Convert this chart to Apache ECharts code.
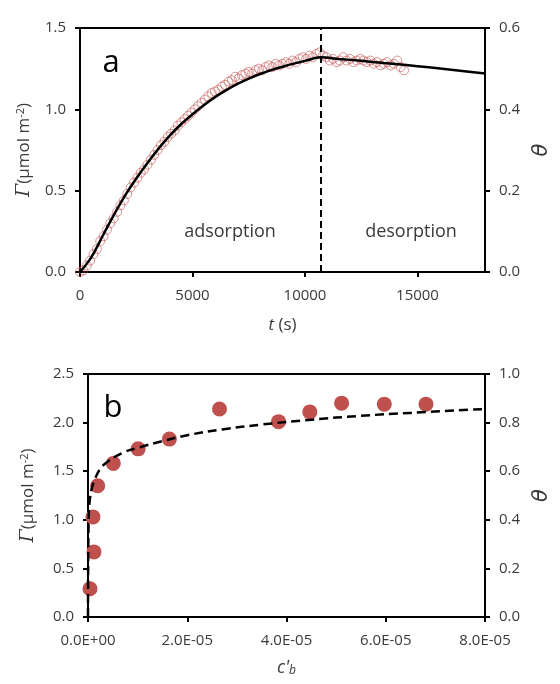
<!DOCTYPE html>
<html>
<head>
<meta charset="utf-8">
<script src="https://cdn.jsdelivr.net/npm/echarts@6/dist/echarts.min.js"></script>
<style>
html,body{margin:0;padding:0;background:#fff}
#echart{width:560px;height:684px}
</style>
</head>
<body>
<div id="echart"></div>
<script>
// panel a: kinetics (experimental points + model line)
const expTime = [
  0,150,300,450,600,750,900,1050,1200,1350,
  1500,1650,1800,1950,2100,2250,2400,2550,2700,2850,
  3000,3150,3300,3450,3600,3750,3900,4050,4200,4350,
  4500,4650,4800,4950,5100,5250,5400,5550,5700,5850,
  6000,6150,6300,6450,6600,6750,6900,7050,7200,7350,
  7500,7650,7800,7950,8100,8250,8400,8550,8700,8850,
  9000,9150,9300,9450,9600,9750,9900,10050,10200,10350,
  10500,10650,10800,10950,11100,11250,11400,11550,11700,11850,
  12000,12150,12300,12450,12600,12750,12900,13050,13200,13350,
  13500,13650,13800,13950,14100,14250,14400
]
const expGamma = [
  0.00,0.01,0.04,0.07,0.11,0.14,0.19,0.22,0.26,0.30,
  0.33,0.37,0.41,0.44,0.48,0.52,0.55,0.58,0.61,0.63,
  0.66,0.69,0.72,0.75,0.78,0.80,0.83,0.85,0.87,0.90,
  0.92,0.94,0.96,0.98,1.00,1.02,1.04,1.06,1.08,1.10,
  1.11,1.12,1.14,1.15,1.17,1.18,1.20,1.19,1.21,1.22,
  1.23,1.22,1.24,1.25,1.24,1.26,1.27,1.26,1.28,1.27,
  1.28,1.29,1.28,1.30,1.29,1.31,1.32,1.31,1.33,1.32,
  1.34,1.35,1.33,1.32,1.30,1.31,1.29,1.30,1.32,1.30,
  1.31,1.29,1.30,1.31,1.30,1.29,1.30,1.28,1.29,1.27,
  1.28,1.29,1.27,1.28,1.30,1.26,1.24
]
const fitTime = [0,500,1000,1500,2000,2500,3000,3500,4000,4500,5000,5500,6000,6500,7000,7500,8000,8500,9000,9500,10000,10700,11500,12500,13500,14500,15500,16500,18000]
const fitGamma = [0,0.09,0.22,0.35,0.47,0.575,0.67,0.76,0.84,0.91,0.97,1.025,1.075,1.118,1.156,1.189,1.217,1.241,1.262,1.281,1.298,1.32,1.31,1.298,1.285,1.272,1.258,1.243,1.22]
const switchTime = 10700

// panel b: isotherm
const isoConc = [4e-7,1.2e-6,1.0e-6,1.95e-6,5.1e-6,1.01e-5,1.64e-5,2.65e-5,3.84e-5,4.47e-5,5.11e-5,5.97e-5,6.81e-5]
const isoGamma = [0.29,0.67,1.03,1.35,1.58,1.73,1.83,2.14,2.01,2.11,2.20,2.19,2.19]
const curveConc = [0,2e-8,1e-7,2e-7,4e-7,8e-7,1.4e-6,2.4e-6,4e-6,7e-6,1e-5,1.5e-5,2e-5,2.7e-5,3.5e-5,4.5e-5,5.5e-5,6.5e-5,8e-5]
const curveGamma = [0,0.4,0.9,1.1,1.22,1.33,1.42,1.52,1.60,1.69,1.74,1.81,1.87,1.93,1.98,2.03,2.07,2.10,2.14]

// tick values
const timeTicks = [0,5000,10000,15000]
const gammaTicksA = [0,0.5,1.0,1.5]
const thetaTicksA = [0,0.2,0.4,0.6]
const concTicks = [0,2e-5,4e-5,6e-5,8e-5]
const gammaTicksB = [0,0.5,1.0,1.5,2.0,2.5]
const thetaTicksB = [0,0.2,0.4,0.6,0.8,1.0]

const font = "'Open Sans', sans-serif"
const txt = '#3a3a3a'
const zip = (a, b) => a.map((v, i) => [v, b[i]])
const fix1 = v => v.toFixed(1)
const sci = v => {
  const [m, e] = v.toExponential(1).split('e')
  return m + 'E' + e[0] + e.slice(1).padStart(2, '0')
}

function xAx(grid, min, max, ticks, fmt, name, gap, rich) {
  return {
    gridIndex: grid, type: 'value', min: min, max: max,
    axisLine: {show: true, onZero: false, lineStyle: {color: '#000', width: 2}},
    axisTick: {show: true, length: 5, customValues: ticks, lineStyle: {color: '#000', width: 2}},
    axisLabel: {customValues: ticks, formatter: fmt, margin: 16, color: txt, fontSize: 15, fontFamily: font},
    splitLine: {show: false},
    name: name, nameLocation: 'middle', nameGap: gap,
    nameTextStyle: {color: txt, fontSize: 17, fontFamily: font, rich: rich}
  }
}
function yAx(grid, pos, min, max, ticks, name, gap, rich) {
  return {
    gridIndex: grid, type: 'value', position: pos, min: min, max: max,
    axisLine: {show: true, onZero: false, lineStyle: {color: '#000', width: 2}},
    axisTick: {show: true, length: 5, customValues: ticks, lineStyle: {color: '#000', width: 2}},
    axisLabel: {customValues: ticks, formatter: fix1, margin: 14, color: txt, fontSize: 15, fontFamily: font},
    splitLine: {show: false},
    name: name, nameLocation: 'middle', nameGap: gap, nameRotate: 90,
    nameTextStyle: {color: txt, fontSize: 17, fontFamily: font, rich: rich}
  }
}

const gammaRich = {
  g: {fontStyle: 'italic', fontSize: 19, color: txt, fontFamily: 'DejaVu Serif'},
  n: {fontSize: 17, color: txt, fontFamily: font},
  sup: {fontSize: 11, color: txt, fontFamily: font, verticalAlign: 'top'}
}
const thetaRich = {th: {fontStyle: 'italic', fontSize: 21, color: txt, fontFamily: 'DejaVu Sans'}}
const gammaName = '{g|Γ}{n|(μmol m}{sup|-2}{n|)}'

const option = {
  animation: false,
  backgroundColor: '#fff',
  grid: [
    {left: 80, right: 67, top: 28, height: 244, show: true, borderColor: '#000', borderWidth: 2},
    {left: 88, right: 62, top: 374, height: 243, show: true, borderColor: '#000', borderWidth: 2}
  ],
  xAxis: [
    xAx(0, 0, 18000, timeTicks, v => String(v), '{i|t} (s)', 45,
      {i: {fontStyle: 'italic', fontSize: 17, color: txt, fontFamily: font}}),
    xAx(1, 0, 8e-5, concTicks, sci, "{i|c'}{sub|b}", 42,
      {i: {fontStyle: 'italic', fontSize: 18, color: txt, fontFamily: font},
       sub: {fontStyle: 'italic', fontSize: 12, color: txt, fontFamily: font, verticalAlign: 'bottom'}})
  ],
  yAxis: [
    yAx(0, 'left', 0, 1.5, gammaTicksA, gammaName, 46, gammaRich),
    yAx(0, 'right', 0, 0.6, thetaTicksA, '{th|θ}', 44, thetaRich),
    yAx(1, 'left', 0, 2.5, gammaTicksB, gammaName, 50, gammaRich),
    yAx(1, 'right', 0, 1.0, thetaTicksB, '{th|θ}', 44, thetaRich)
  ],
  graphic: [
    {type: 'text', x: 111, y: 63, style: {text: 'a', fontSize: 31, fontFamily: font, fill: '#000', align: 'center', verticalAlign: 'middle'}},
    {type: 'text', x: 113, y: 408, style: {text: 'b', fontSize: 31, fontFamily: font, fill: '#000', align: 'center', verticalAlign: 'middle'}},
    {type: 'text', x: 230, y: 232, style: {text: 'adsorption', fontSize: 18, fontFamily: font, fill: txt, align: 'center', verticalAlign: 'middle'}},
    {type: 'text', x: 411, y: 232, style: {text: 'desorption', fontSize: 18, fontFamily: font, fill: txt, align: 'center', verticalAlign: 'middle'}}
  ],
  series: [
    {
      type: 'scatter', xAxisIndex: 0, yAxisIndex: 0, z: 2,
      data: zip(expTime, expGamma),
      symbol: 'circle', symbolSize: 9,
      itemStyle: {color: 'rgba(255,255,255,0)', borderColor: 'rgba(192,80,77,0.75)', borderWidth: 1}
    },
    {
      type: 'line', xAxisIndex: 0, yAxisIndex: 0, z: 3,
      data: zip(fitTime, fitGamma),
      showSymbol: false, smooth: 0.4,
      lineStyle: {color: '#000', width: 2.5},
      markLine: {
        symbol: 'none', silent: true, label: {show: false},
        lineStyle: {type: [7, 4], color: '#000', width: 2},
        data: [{xAxis: switchTime}]
      }
    },
    {
      type: 'scatter', xAxisIndex: 1, yAxisIndex: 2,
      data: zip(isoConc, isoGamma),
      symbolSize: 15,
      itemStyle: {color: '#c0504d', opacity: 1}
    },
    {
      type: 'line', xAxisIndex: 1, yAxisIndex: 2, z: 3,
      data: zip(curveConc, curveGamma),
      showSymbol: false, smooth: 0.4,
      lineStyle: {color: '#000', width: 2.5, type: [9, 5]}
    }
  ]
}

const chart = echarts.init(document.getElementById('echart'))
chart.setOption(option)
</script>
</body>
</html>
